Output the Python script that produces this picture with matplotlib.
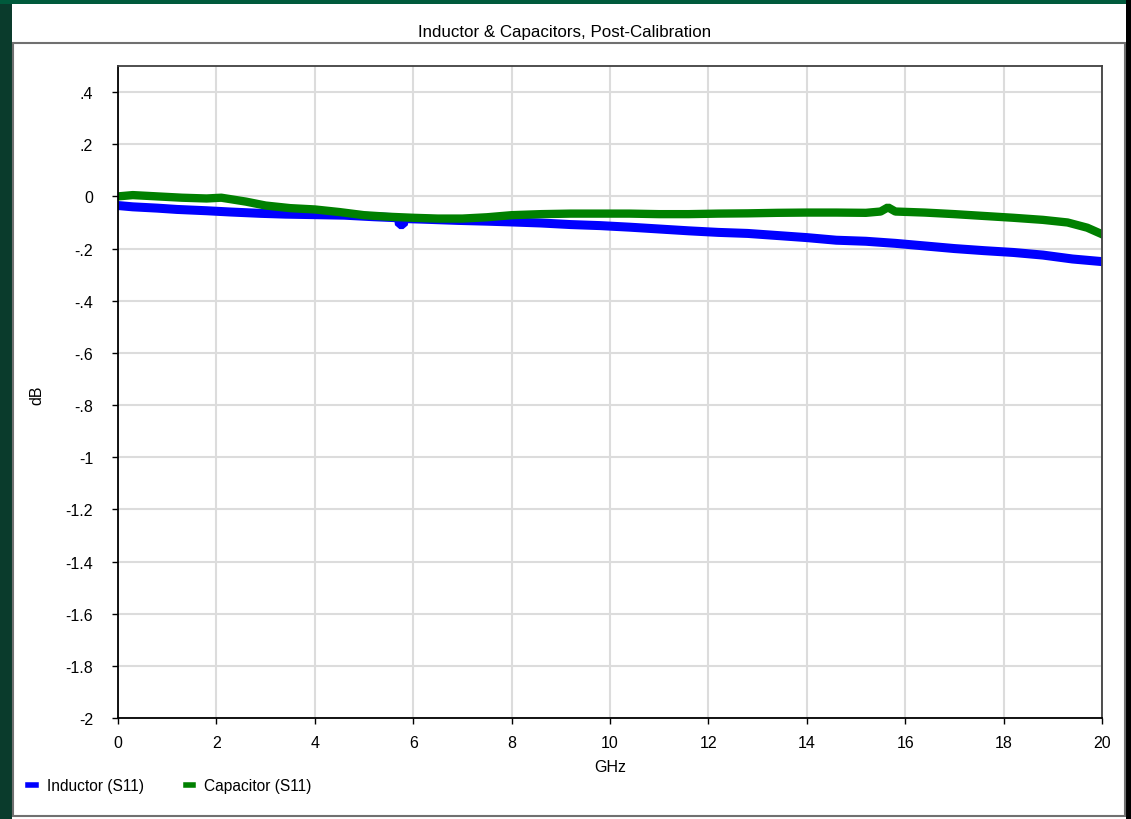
import numpy as np
import matplotlib.pyplot as plt
from matplotlib.patches import Rectangle
from matplotlib.ticker import FixedLocator

# dữ liệu (GHz, dB)
ind_ghz = [0, 0.3, 0.8, 1.2, 1.8, 2.3, 2.9, 3.4, 4.0, 4.6, 5.2, 5.7, 5.72, 5.8, 5.82,
           6.3, 6.9, 7.5, 8.0, 8.6, 9.2, 9.8, 10.4, 11.0, 11.6, 12.2, 12.8, 13.4,
           14.0, 14.6, 15.2, 15.8, 16.4, 17.0, 17.6, 18.2, 18.8, 19.4, 20.0]
ind_db = [-0.035, -0.04, -0.045, -0.05, -0.055, -0.06, -0.065, -0.068, -0.07, -0.072,
          -0.078, -0.082, -0.108, -0.108, -0.085, -0.088, -0.092, -0.095, -0.098,
          -0.102, -0.108, -0.112, -0.118, -0.125, -0.132, -0.138, -0.142, -0.15,
          -0.158, -0.168, -0.172, -0.18, -0.19, -0.2, -0.208, -0.215, -0.225, -0.24,
          -0.25]

cap_ghz = [0, 0.3, 0.8, 1.3, 1.8, 2.1, 2.6, 3.0, 3.5, 4.0, 4.5, 5.0, 5.5, 6.0, 6.5,
           7.0, 7.5, 8.0, 8.6, 9.2, 9.8, 10.4, 11.0, 11.6, 12.2, 12.8, 13.4, 14.0,
           14.6, 15.2, 15.5, 15.65, 15.8, 16.4, 17.0, 17.6, 18.2, 18.8, 19.3, 19.7, 20.0]
cap_db = [0.0, 0.005, 0.0, -0.005, -0.008, -0.005, -0.02, -0.035, -0.045, -0.05,
          -0.06, -0.072, -0.078, -0.082, -0.085, -0.085, -0.08, -0.072, -0.068,
          -0.066, -0.066, -0.066, -0.068, -0.068, -0.066, -0.065, -0.063, -0.062,
          -0.062, -0.063, -0.058, -0.042, -0.058, -0.062, -0.068, -0.075, -0.082,
          -0.09, -0.1, -0.12, -0.145]

y_ticks = [-2, -1.8, -1.6, -1.4, -1.2, -1, -0.8, -0.6, -0.4, -0.2, 0, 0.2, 0.4]
y_labels = ['-2', '-1.8', '-1.6', '-1.4', '-1.2', '-1', '-.8', '-.6', '-.4', '-.2',
            '0', '.2', '.4']
x_ticks = [0, 2, 4, 6, 8, 10, 12, 14, 16, 18, 20]

W, H = 1131, 820
plt.rcParams['font.family'] = ['Liberation Sans', 'DejaVu Sans']

fig = plt.figure(figsize=(W / 100, H / 100), dpi=100)
fig.patch.set_facecolor('#0a3b2c')


def px_rect(x0, y0, x1, y1, **kw):
    # toạ độ pixel (gốc trên-trái) -> toạ độ figure
    fig.patches.append(Rectangle((x0 / W, 1 - y1 / H), (x1 - x0) / W, (y1 - y0) / H,
                                 transform=fig.transFigure, zorder=-5, **kw))


px_rect(0, 0, W, 5, facecolor='#005a3c', edgecolor='none')
px_rect(12, 5, 1126, 820, facecolor='white', edgecolor='none')
px_rect(1126, 0, W, 820, facecolor='black', edgecolor='none')
px_rect(13.5, 43.5, 1124.5, 817, facecolor='none', edgecolor='#707070', linewidth=1.5)

ax = fig.add_axes([118 / W, 1 - 719 / H, (1102 - 118) / W, (719 - 67) / H])
ax.set_facecolor('white')
ax.plot(ind_ghz, ind_db, color='#0000ff', linewidth=6.5, solid_joinstyle='bevel',
        label='Inductor (S11)')
ax.plot(cap_ghz, cap_db, color='#008000', linewidth=6, solid_joinstyle='bevel',
        label='Capacitor (S11)')

ax.set_xlim(0, 20)
ax.set_ylim(-2, 0.5)
ax.xaxis.set_major_locator(FixedLocator(x_ticks))
ax.set_yticks(y_ticks)
ax.set_yticklabels(y_labels)
ax.grid(True, color='#dcdcdc', linewidth=1.5)
ax.set_axisbelow(True)
for s in ax.spines.values():
    s.set_color('#404040')
    s.set_linewidth(1.3)
ax.spines['left'].set_color('black')
ax.spines['bottom'].set_color('black')
ax.tick_params(direction='out', length=4, width=1, colors='black', labelsize=11.5)
ax.tick_params(axis='x', pad=8)
ax.tick_params(axis='y', pad=14)

fig.text(565 / W, 1 - 32 / H, 'Inductor & Capacitors, Post-Calibration',
         ha='center', va='center', fontsize=12.2)
fig.text(37 / W, 1 - 395 / H, 'dB', ha='center', va='center', rotation=90, fontsize=11.5)
fig.text(610 / W, 1 - 768 / H, 'GHz', ha='center', va='center', fontsize=11.5)

leg = fig.legend(loc='center left', bbox_to_anchor=(28 / W, 1 - 787 / H), ncol=2,
                 frameon=False, fontsize=11.2, handlelength=0.5, handletextpad=0.7,
                 columnspacing=2.7, borderaxespad=0, borderpad=0)
for line in leg.get_lines():
    line.set_linewidth(4)

fig.savefig('out.png', dpi=100, facecolor=fig.get_facecolor())
